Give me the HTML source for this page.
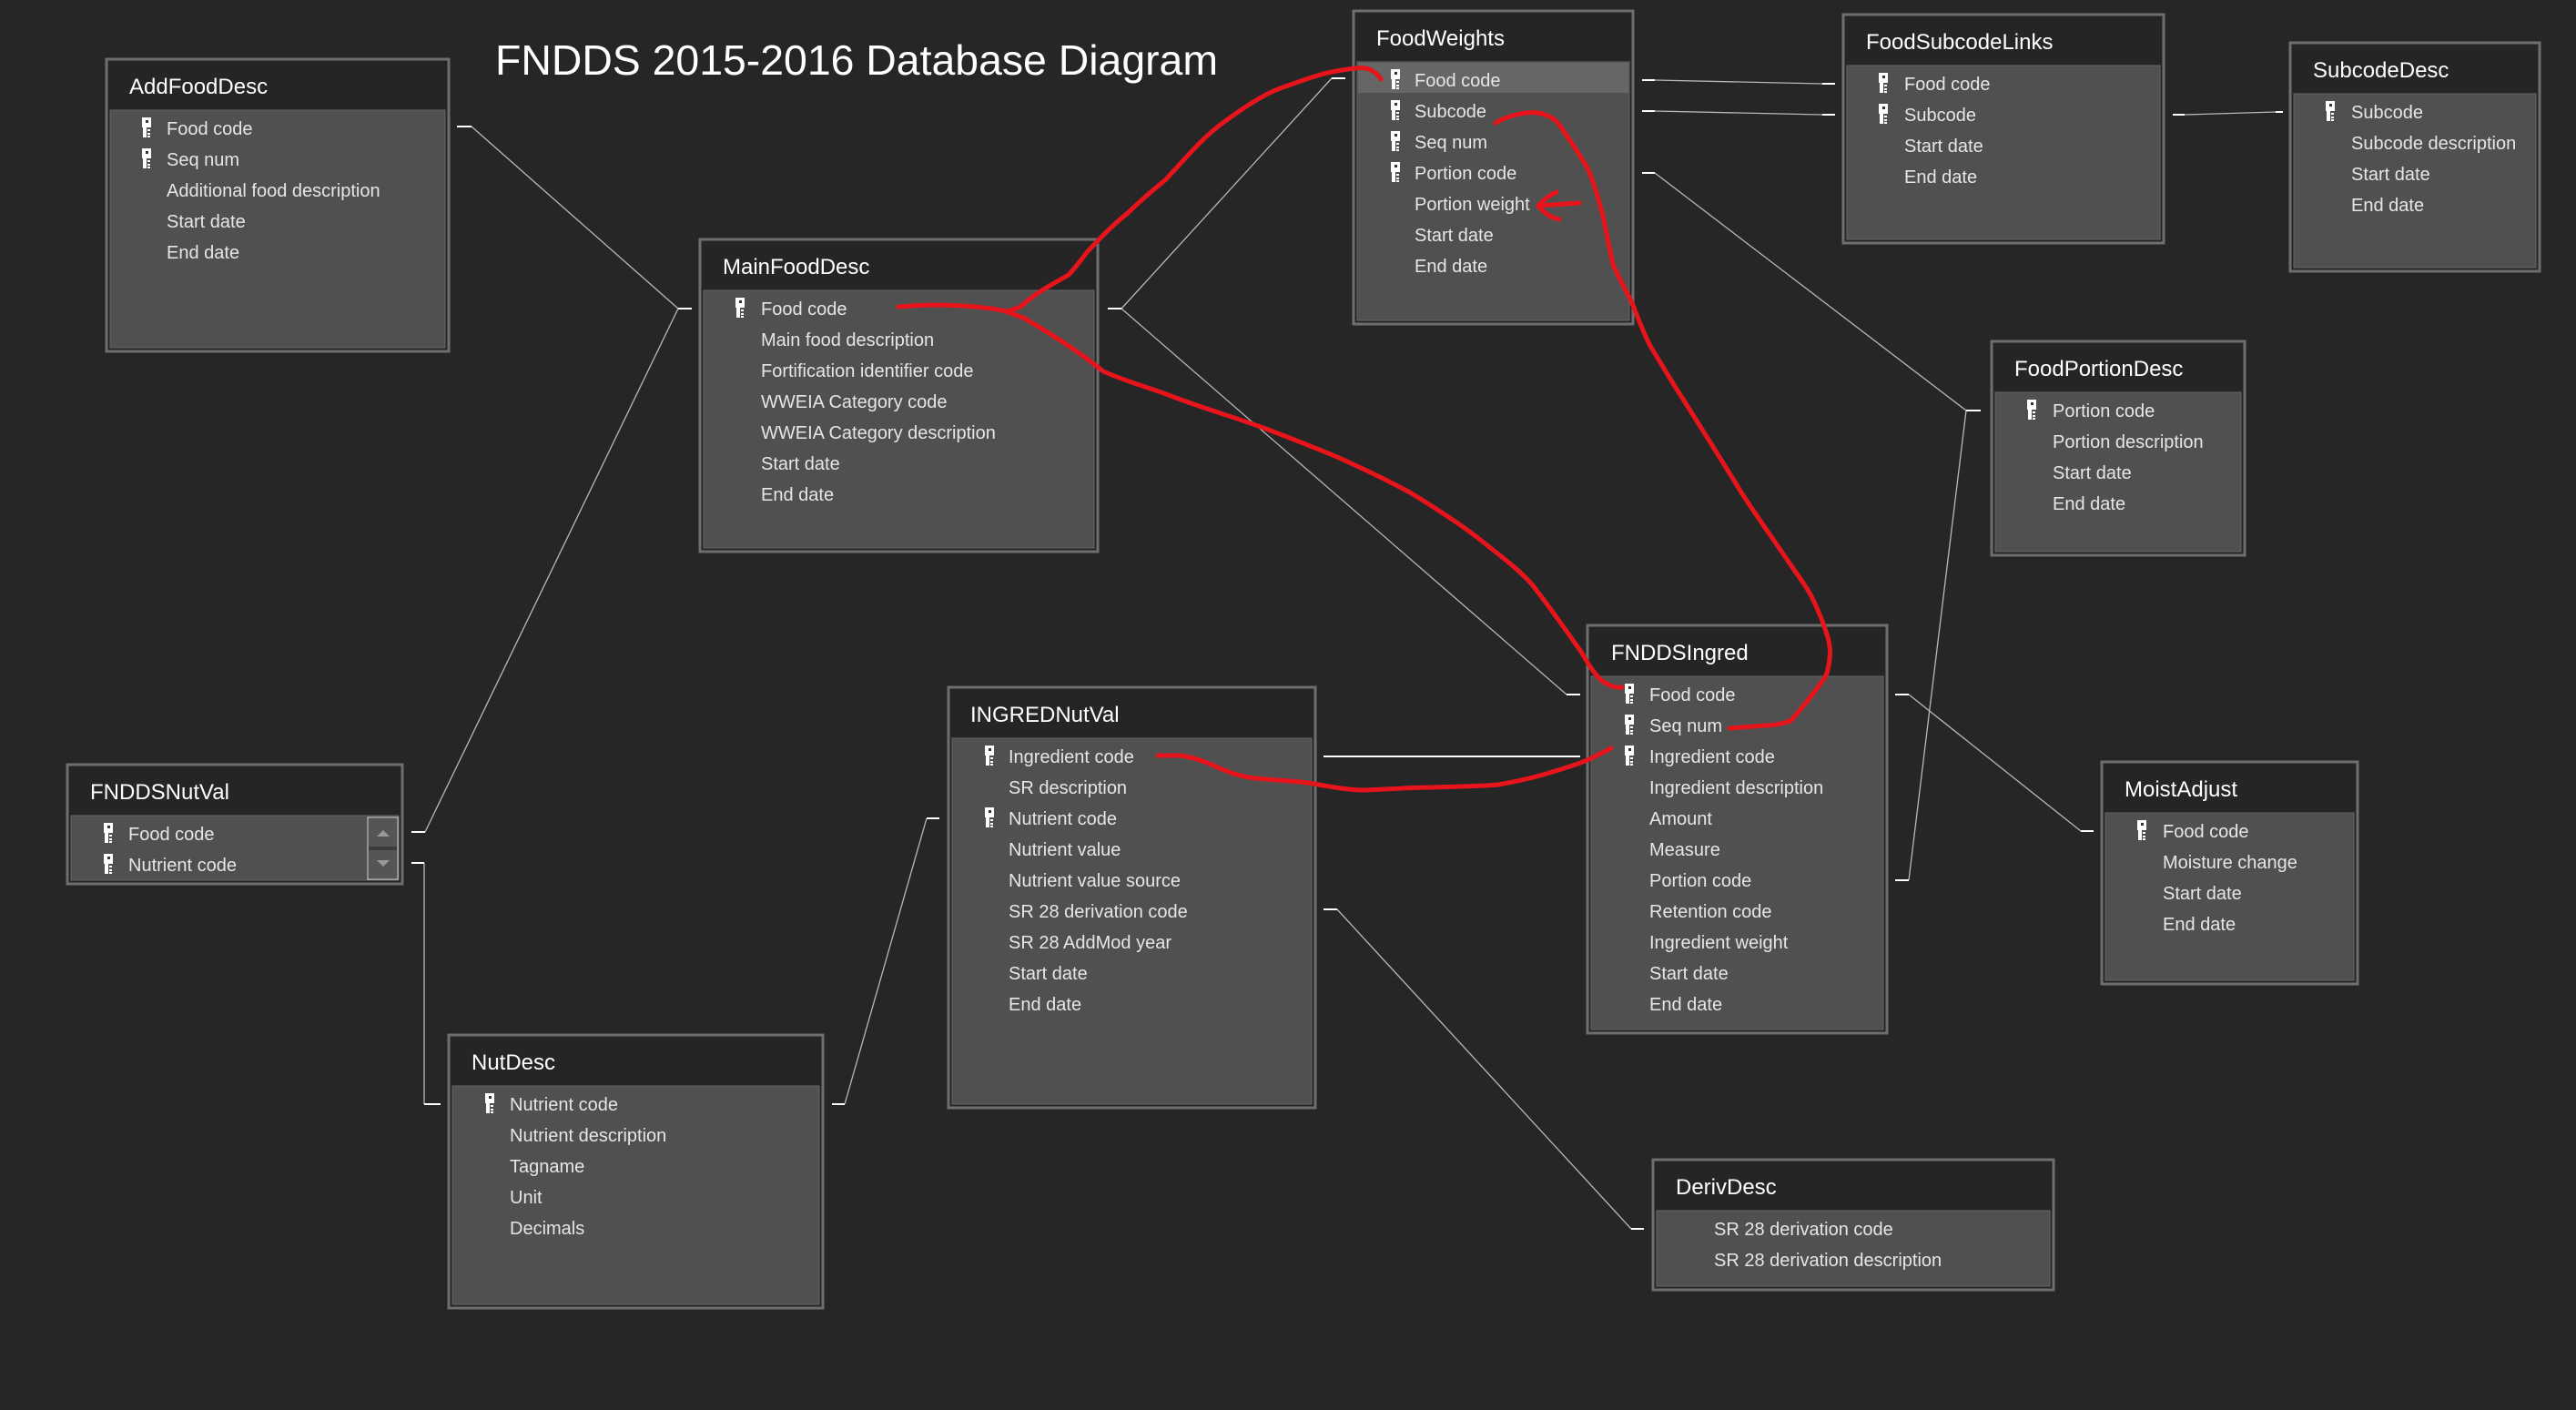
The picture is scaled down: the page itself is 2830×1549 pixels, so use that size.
<!DOCTYPE html>
<html><head><meta charset="utf-8"><style>
html,body{margin:0;padding:0;background:#262626;}
svg{display:block}
text{font-family:"Liberation Sans",sans-serif;}
.h{font-size:24px;fill:#fff}
.r{font-size:20px;fill:#e6e6e6}
.box{fill:#252525;stroke:#6e6e6e;stroke-width:3}
.bd{fill:#505050;stroke:#666;stroke-width:1}
.c{fill:none;stroke:#b8b8b8;stroke-width:1.3}
.s{fill:none;stroke:#fff;stroke-width:2}
.red{fill:none;stroke:#e8141c;stroke-width:5;stroke-linecap:round;stroke-linejoin:round}
</style></head><body>
<svg width="2830" height="1549" viewBox="0 0 2830 1549" xmlns="http://www.w3.org/2000/svg">
<defs>
<g id="k"><rect x="-5" y="-12" width="10" height="11" fill="#fff"/><rect x="-1" y="-9" width="3" height="3" fill="#333"/><rect x="-4" y="-1" width="4" height="11" fill="#fff"/><rect x="1" y="1" width="3" height="2" fill="#fff"/><rect x="1" y="5" width="3" height="2" fill="#fff"/><rect x="1" y="8" width="3" height="2" fill="#fff"/></g>
</defs>
<rect width="2830" height="1549" fill="#262626"/>
<text x="544" y="82" font-size="46" fill="#fff" textLength="794" lengthAdjust="spacingAndGlyphs">FNDDS 2015-2016 Database Diagram</text>

<!-- connectors -->
<path class="c" d="M518,139 L745,339 M467,914 L745,339 M466,948 V1213 M928,1213 L1018,899 M1469,999 L1792,1350 M1232,339 L1463,86 M1232,339 L1721,763 M1818,88 L2002,92 M1818,122 L2002,126 M1818,190 L2160,451 M2097,763 L2286,913 M2097,967 L2160,451 M2400,126 L2500,123"/>
<path class="s" d="M502,139 H518 M745,339 H760 M452,914 H467 M452,948 H466 M466,1213 H484 M914,1213 H928 M1018,899 H1032 M1454,831 H1736 M1454,999 H1469 M1792,1350 H1806 M1217,339 H1232 M1463,86 H1478 M1721,763 H1736 M1804,88 H1818 M1804,122 H1818 M1804,190 H1818 M2002,92 H2016 M2002,126 H2016 M2160,451 H2176 M2082,763 H2097 M2082,967 H2097 M2286,913 H2300 M2387,126 H2400 M2500,123 H2508"/>

<!-- AddFoodDesc -->
<rect class="box" x="117" y="65" width="376" height="321"/>
<rect class="bd" x="121" y="121" width="368" height="261"/>
<text class="h" x="142" y="103">AddFoodDesc</text>
<use href="#k" x="161" y="141"/><use href="#k" x="161" y="175"/>
<text class="r" x="183" y="148">Food code</text><text class="r" x="183" y="182">Seq num</text><text class="r" x="183" y="216">Additional food description</text><text class="r" x="183" y="250">Start date</text><text class="r" x="183" y="284">End date</text>

<!-- MainFoodDesc -->
<rect class="box" x="769" y="263" width="437" height="343"/>
<rect class="bd" x="773" y="319" width="429" height="283"/>
<text class="h" x="794" y="301">MainFoodDesc</text>
<use href="#k" x="813" y="339"/>
<text class="r" x="836" y="346">Food code</text><text class="r" x="836" y="380">Main food description</text><text class="r" x="836" y="414">Fortification identifier code</text><text class="r" x="836" y="448">WWEIA Category code</text><text class="r" x="836" y="482">WWEIA Category description</text><text class="r" x="836" y="516">Start date</text><text class="r" x="836" y="550">End date</text>

<!-- FoodWeights -->
<rect class="box" x="1487" y="12" width="307" height="344"/>
<rect class="bd" x="1491" y="68" width="299" height="284"/>
<rect x="1492" y="69" width="297" height="33" fill="#666"/>
<text class="h" x="1512" y="50">FoodWeights</text>
<use href="#k" x="1533" y="88"/><use href="#k" x="1533" y="122"/><use href="#k" x="1533" y="156"/><use href="#k" x="1533" y="190"/>
<text class="r" x="1554" y="95">Food code</text><text class="r" x="1554" y="129">Subcode</text><text class="r" x="1554" y="163">Seq num</text><text class="r" x="1554" y="197">Portion code</text><text class="r" x="1554" y="231">Portion weight</text><text class="r" x="1554" y="265">Start date</text><text class="r" x="1554" y="299">End date</text>

<!-- FoodSubcodeLinks -->
<rect class="box" x="2025" y="16" width="352" height="251"/>
<rect class="bd" x="2029" y="72" width="344" height="191"/>
<text class="h" x="2050" y="54">FoodSubcodeLinks</text>
<use href="#k" x="2069" y="92"/><use href="#k" x="2069" y="126"/>
<text class="r" x="2092" y="99">Food code</text><text class="r" x="2092" y="133">Subcode</text><text class="r" x="2092" y="167">Start date</text><text class="r" x="2092" y="201">End date</text>

<!-- SubcodeDesc -->
<rect class="box" x="2516" y="47" width="274" height="251"/>
<rect class="bd" x="2520" y="103" width="266" height="191"/>
<text class="h" x="2541" y="85">SubcodeDesc</text>
<use href="#k" x="2560" y="123"/>
<text class="r" x="2583" y="130">Subcode</text><text class="r" x="2583" y="164">Subcode description</text><text class="r" x="2583" y="198">Start date</text><text class="r" x="2583" y="232">End date</text>

<!-- FoodPortionDesc -->
<rect class="box" x="2188" y="375" width="278" height="235"/>
<rect class="bd" x="2192" y="431" width="270" height="175"/>
<text class="h" x="2213" y="413">FoodPortionDesc</text>
<use href="#k" x="2232" y="451"/>
<text class="r" x="2255" y="458">Portion code</text><text class="r" x="2255" y="492">Portion description</text><text class="r" x="2255" y="526">Start date</text><text class="r" x="2255" y="560">End date</text>

<!-- FNDDSIngred -->
<rect class="box" x="1744" y="687" width="329" height="448"/>
<rect class="bd" x="1748" y="743" width="321" height="388"/>
<text class="h" x="1770" y="725">FNDDSIngred</text>
<use href="#k" x="1790" y="763"/><use href="#k" x="1790" y="797"/><use href="#k" x="1790" y="831"/>
<text class="r" x="1812" y="770">Food code</text><text class="r" x="1812" y="804">Seq num</text><text class="r" x="1812" y="838">Ingredient code</text><text class="r" x="1812" y="872">Ingredient description</text><text class="r" x="1812" y="906">Amount</text><text class="r" x="1812" y="940">Measure</text><text class="r" x="1812" y="974">Portion code</text><text class="r" x="1812" y="1008">Retention code</text><text class="r" x="1812" y="1042">Ingredient weight</text><text class="r" x="1812" y="1076">Start date</text><text class="r" x="1812" y="1110">End date</text>

<!-- MoistAdjust -->
<rect class="box" x="2309" y="837" width="281" height="244"/>
<rect class="bd" x="2313" y="893" width="273" height="184"/>
<text class="h" x="2334" y="875">MoistAdjust</text>
<use href="#k" x="2353" y="913"/>
<text class="r" x="2376" y="920">Food code</text><text class="r" x="2376" y="954">Moisture change</text><text class="r" x="2376" y="988">Start date</text><text class="r" x="2376" y="1022">End date</text>

<!-- INGREDNutVal -->
<rect class="box" x="1042" y="755" width="403" height="462"/>
<rect class="bd" x="1046" y="811" width="395" height="402"/>
<text class="h" x="1066" y="793">INGREDNutVal</text>
<use href="#k" x="1087" y="831"/><use href="#k" x="1087" y="899"/>
<text class="r" x="1108" y="838">Ingredient code</text><text class="r" x="1108" y="872">SR description</text><text class="r" x="1108" y="906">Nutrient code</text><text class="r" x="1108" y="940">Nutrient value</text><text class="r" x="1108" y="974">Nutrient value source</text><text class="r" x="1108" y="1008">SR 28 derivation code</text><text class="r" x="1108" y="1042">SR 28 AddMod year</text><text class="r" x="1108" y="1076">Start date</text><text class="r" x="1108" y="1110">End date</text>

<!-- FNDDSNutVal -->
<rect class="box" x="74" y="840" width="368" height="131"/>
<rect class="bd" x="78" y="896" width="360" height="71"/>
<text class="h" x="99" y="878">FNDDSNutVal</text>
<use href="#k" x="119" y="916"/><use href="#k" x="119" y="950"/>
<text class="r" x="141" y="923">Food code</text><text class="r" x="141" y="957">Nutrient code</text>
<rect x="404" y="898" width="33" height="68" fill="#3c3c3c" stroke="#ddd" stroke-width="1"/>
<rect x="405" y="899" width="31" height="31" fill="#555"/><rect x="405" y="934" width="31" height="31" fill="#555"/>
<path d="M414,919 L421,912 L428,919 Z M414,945 L421,952 L428,945 Z" fill="#999"/>

<!-- NutDesc -->
<rect class="box" x="493" y="1137" width="411" height="300"/>
<rect class="bd" x="497" y="1193" width="403" height="240"/>
<text class="h" x="518" y="1175">NutDesc</text>
<use href="#k" x="538" y="1213"/>
<text class="r" x="560" y="1220">Nutrient code</text><text class="r" x="560" y="1254">Nutrient description</text><text class="r" x="560" y="1288">Tagname</text><text class="r" x="560" y="1322">Unit</text><text class="r" x="560" y="1356">Decimals</text>

<!-- DerivDesc -->
<rect class="box" x="1816" y="1274" width="440" height="143"/>
<rect class="bd" x="1820" y="1330" width="432" height="83"/>
<text class="h" x="1841" y="1312">DerivDesc</text>
<text class="r" x="1883" y="1357">SR 28 derivation code</text><text class="r" x="1883" y="1391">SR 28 derivation description</text>

<!-- red annotations -->
<path class="red" d="M987,337 C1030,333 1080,336 1105,342 C1115,340 1121,337 1121,337 C1140,320 1160,310 1174,302 C1185,290 1190,282 1196,275 C1215,255 1225,245 1239,234 C1255,218 1268,208 1281,197 C1310,165 1325,148 1346,133 C1375,112 1395,100 1415,94 C1440,85 1455,80 1469,78 C1485,75 1495,74 1501,75 C1510,78 1514,82 1517,87"/>
<path class="red" d="M1105,342 C1115,346 1124,348 1131,353 C1160,370 1190,390 1212,408 C1240,420 1260,425 1281,433 C1320,448 1355,458 1388,470 C1420,482 1445,492 1469,502 C1500,516 1525,528 1549,541 C1580,560 1608,578 1630,596 C1650,612 1668,625 1683,642 C1705,670 1722,695 1737,716 C1748,735 1755,745 1763,750 C1770,754 1776,756 1782,755"/>
<path class="red" d="M1643,135 C1655,128 1675,122 1690,124 C1700,126 1708,130 1713,137 C1722,150 1730,162 1737,173 C1744,184 1747,190 1750,200 C1758,222 1763,245 1767,267 C1770,280 1771,288 1773,293 C1780,308 1787,320 1793,333 C1800,350 1805,365 1813,380 C1825,400 1837,420 1850,440 C1870,472 1893,508 1913,541 C1930,567 1945,588 1960,610 C1975,632 1985,645 1990,655 C2000,675 2005,690 2008,700 C2011,712 2011,718 2010,723 C2009,735 2007,742 2003,747 C1990,765 1978,780 1967,792 C1955,796 1948,797 1940,797 C1925,798 1912,799 1900,800"/>
<path class="red" d="M1735,223 L1690,226 M1710,211 C1700,216 1694,221 1690,226 C1696,234 1704,239 1713,241"/>
<path class="red" d="M1272,830 L1297,830 C1310,832 1320,835 1331,840 C1348,848 1362,853 1379,855 C1400,857 1420,858 1437,860 C1460,864 1480,868 1500,868 C1525,867 1550,865 1573,865 C1600,864 1625,864 1646,862 C1670,858 1690,853 1709,847 C1725,842 1738,838 1748,833 C1758,828 1765,825 1770,822"/>
</svg>
</body></html>
